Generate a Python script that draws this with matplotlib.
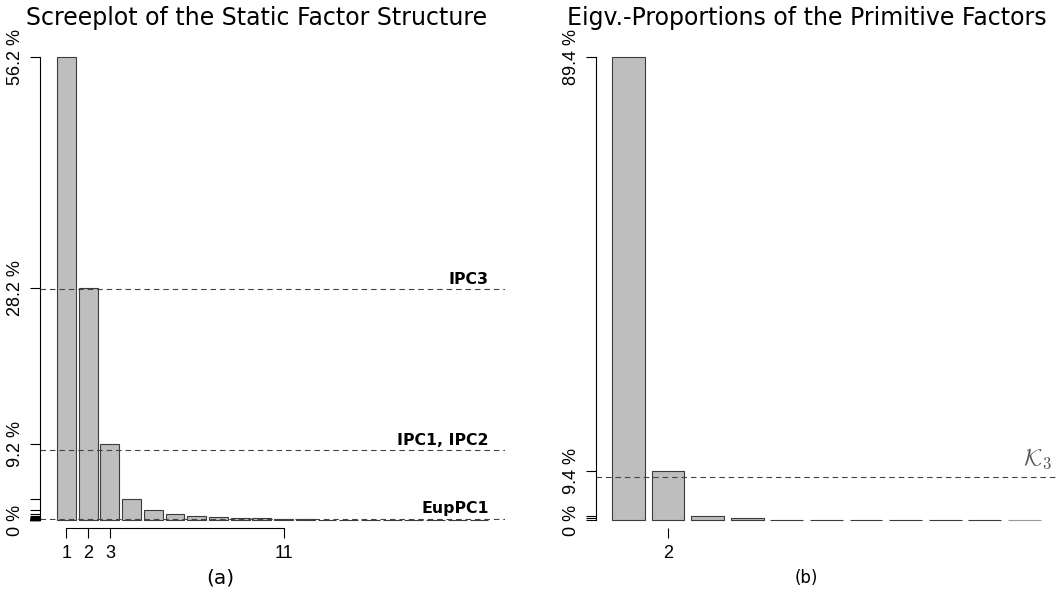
import matplotlib
matplotlib.use('Agg')
import matplotlib.pyplot as plt

# panel (a): screeplot of the static factor structure (% of variance)
static_pct = [56.2, 28.2, 9.2, 2.6, 1.2, 0.77, 0.48, 0.36, 0.3, 0.22,
              0.15, 0.08, 0.06, 0.05, 0.04, 0.03, 0.03, 0.02, 0.02, 0.01]
static_xticks = [1, 2, 3, 11]
static_ylabels = [0, 9.2, 28.2, 56.2]
ref_levels = [28.0, 8.5, 0.16]
ref_names = ['IPC3', 'IPC1, IPC2', 'EupPC1']

# panel (b): eigenvalue proportions of the primitive factors (%)
prim_pct = [89.4, 9.4, 0.7, 0.3, 0.05, 0.05, 0.05, 0.05, 0.05, 0.05, 0.0]
prim_xticks = [2]
prim_ylabels = [0, 9.4, 89.4]
k3_level = 8.3

W, H = 1058, 597
fig = plt.figure(figsize=(W / 100, H / 100), dpi=100)

bar_face = '#bebebe'
bar_edge = '#3c3c3c'
tick_font = 'Liberation Sans'


def fmt(v):
    return '0 %' if v == 0 else '%.1f %%' % v


def setup_axis(ax, values, labelled, xticks, top):
    for s in ['top', 'right']:
        ax.spines[s].set_visible(False)
    ax.spines['left'].set_bounds(0, top)
    ax.spines['left'].set_linewidth(0.8)
    ax.spines['bottom'].set_position(('outward', 6))
    ax.spines['bottom'].set_linewidth(0.8)
    yt = [0] + list(values)
    ax.set_yticks(yt)
    ax.set_yticklabels([fmt(v) if v in labelled else '' for v in yt],
                       fontsize=13, family=tick_font)
    for lab in ax.get_yticklabels():
        lab.set_rotation(90)
        lab.set_ha('right')
        lab.set_va('center')
    ax.tick_params(axis='y', length=7, width=0.8, pad=4.5)
    ax.set_xticks(xticks)
    ax.set_xticklabels([str(x) for x in xticks], fontsize=13, family=tick_font)
    ax.tick_params(axis='x', length=7, width=0.8, pad=5)


# ---- panel (a)
ax1 = fig.add_axes([40 / W, 77 / H, 465 / W, 463 / H])
xs1 = list(range(1, len(static_pct) + 1))
ax1.bar(xs1, static_pct, width=0.87, color=bar_face, edgecolor=bar_edge,
        linewidth=0.8, clip_on=False)
ax1.set_xlim(-0.22, 21.2)
ax1.set_ylim(0, static_pct[0])
setup_axis(ax1, static_pct, static_ylabels, static_xticks, static_pct[0])
ax1.spines['bottom'].set_bounds(1, 11)
for lev, name in zip(ref_levels, ref_names):
    ax1.axhline(lev, color='#444444', linewidth=0.8, dashes=(5, 3.5))
    ax1.text(20.45, lev + 0.3, name, ha='right', va='bottom',
             fontsize=11.3, fontweight='bold', family='DejaVu Sans')

# ---- panel (b)
ax2 = fig.add_axes([596 / W, 77 / H, 462 / W, 463 / H])
xs2 = list(range(1, len(prim_pct) + 1))
edges = [bar_edge] * (len(prim_pct) - 1) + ['#999999']
ax2.bar(xs2, prim_pct, width=0.83, color=bar_face, edgecolor=edges,
        linewidth=0.8, clip_on=False)
ax2.set_xlim(0.18, 11.85)
ax2.set_ylim(0, prim_pct[0])
setup_axis(ax2, prim_pct[:4], prim_ylabels, prim_xticks, prim_pct[0])
ax2.spines['bottom'].set_visible(False)
ax2.axhline(k3_level, color='#444444', linewidth=0.8, dashes=(5, 3.5))
ax2.text(11.7, k3_level + 1.2, r'$\mathcal{K}_3$', ha='right', va='bottom',
         fontsize=17, color='#555555', math_fontfamily='cm')

# titles and panel captions
fig.text(257 / W, 1 - 18 / H, 'Screeplot of the Static Factor Structure',
         ha='center', va='center', fontsize=17, family='DejaVu Sans')
fig.text(807 / W, 1 - 18 / H, 'Eigv.-Proportions of the Primitive Factors',
         ha='center', va='center', fontsize=17, family='DejaVu Sans')
fig.text(220 / W, 1 - 578 / H, '(a)', ha='center', va='center',
         fontsize=14.5, family='DejaVu Sans')
fig.text(806 / W, 1 - 578 / H, '(b)', ha='center', va='center',
         fontsize=12, family='DejaVu Sans')

fig.savefig('out.png', dpi=100)
